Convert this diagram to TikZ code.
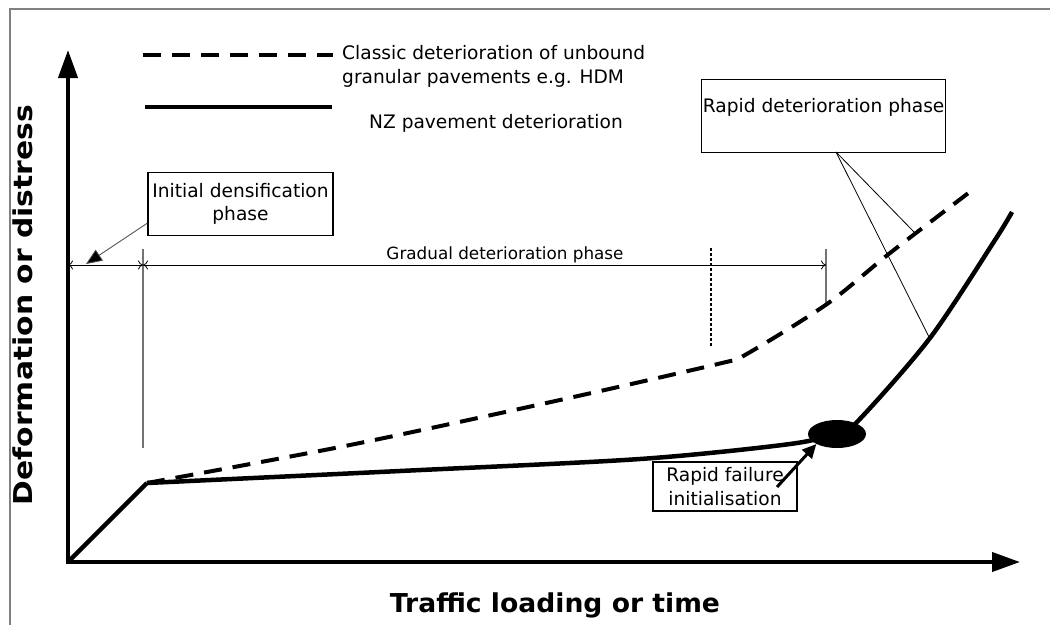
\documentclass[tikz,border=0pt]{standalone}
\usepackage{fontspec}
\usepackage{graphicx}
\setmainfont{DejaVu Sans}
\usetikzlibrary{arrows.meta,shapes.geometric}

\begin{document}
\begin{tikzpicture}[x=1pt,y=-1pt,
  frameline/.style={draw=black!50, line width=1.5pt},
  axis/.style={line width=4pt, -{Triangle[length=28pt,width=19pt]}},
  nzcurve/.style={line width=4.5pt, line join=round},
  hdmcurve/.style={line width=4pt, dash pattern=on 18pt off 11pt},
  txt/.style={font=\fontsize{18.6}{24}\selectfont, inner sep=0pt, align=left},
  labelbox/.style={draw, line width=1.3pt, font=\fontsize{18.6}{23.5}\selectfont, align=center, inner sep=0pt},
  dimline/.style={line width=0.8pt},
  leader/.style={line width=0.8pt},
  guide/.style={draw=black!55, line width=1.3pt},
  axislabel/.style={font=\fontsize{26}{30}\bfseries\selectfont, inner sep=0pt},
]
\useasboundingbox (0,0) rectangle (1050,625);

% frame (top and left edges)
\draw[frameline] (10,625) -- (10,9) -- (1050,9);

% axes
\coordinate (O) at (68,562);
\coordinate (ytop) at (68,50);
\coordinate (xend) at (1020,562);
\draw[axis] (68,564) -- (ytop);
\draw[axis] (66,562) -- (xend);

\node[axislabel, anchor=base] (xlabel) at (555,612)
  {\resizebox{330pt}{\height}{Traffic loading or time}};
\node[axislabel, rotate=90, anchor=base] (ylabel) at (32,305)
  {\resizebox{400pt}{\height}{Deformation or distress}};

% legend
\draw[hdmcurve] (143,55) -- (333,55);
\draw[line width=4.5pt] (145,107) -- (332,107);
\node[txt, anchor=north west] (hdmtext) at (342,45)
  {Classic deterioration of unbound\\granular pavements e.g. HDM};
\node[txt, anchor=west] (nztext) at (369,123) {NZ pavement deterioration};

% phase boundaries
\draw[guide] (143,249) -- (143,448);
\draw[guide] (826,249) -- (826,303);
\draw[line width=1.2pt, dash pattern=on 3pt off 2pt] (711,248) -- (711,347);

% dimension line for the phases
\coordinate (d0) at (68,265);
\coordinate (d1) at (143,265);
\coordinate (d2) at (826,265);
\draw[dimline, {To[length=5pt,width=9pt]}-{To[length=5pt,width=9pt]}] (d0) -- (d1);
\draw[dimline, {To[length=5pt,width=9pt]}-{To[length=5pt,width=9pt]}] (d1) -- (d2);
\node[txt, font=\fontsize{16.8}{20}\selectfont, anchor=base] (gradual) at (505,259) {Gradual deterioration phase};

% initial densification label
\node[labelbox, minimum width=185pt, minimum height=63pt] (densbox) at (240.5,204)
  {Initial densification\\phase};
\coordinate (denstip) at (86,264);
\draw[leader, draw=black!70, -{Triangle[length=16pt,width=13pt,fill=black]}]
  ([yshift=13pt]densbox.south west) -- (denstip);

% classic (HDM) deterioration curve
\draw[hdmcurve] plot[smooth, tension=0.5] coordinates
  {(147,483) (350,445) (560,400) (722,363) (745,355) (827,304) (890,253) (975,188)};

% NZ deterioration curve
\draw[nzcurve] (O) -- (147,483);
\draw[nzcurve] plot[smooth, tension=0.5] coordinates
  {(147,483) (400,471) (640,459) (790,444) (837,433) (857,422) (930,338) (995,240) (1012,212)};

% rapid failure initialisation point
\node[ellipse, fill, minimum width=58pt, minimum height=28pt, inner sep=0pt] (fail) at (837,434) {};
\node[labelbox, minimum width=144pt, minimum height=49pt] (failbox) at (725,486.5)
  {Rapid failure\\initialisation};
\coordinate (failstart) at (777,487);
\draw[line width=3pt, -{Triangle[length=14pt,width=13pt]}] (failstart) -- (fail.south west);

% rapid deterioration label
\node[labelbox, anchor=north west, minimum width=244pt, text height=33pt, text depth=40pt]
  (rapidbox) at (701,79) {Rapid deterioration phase};
\coordinate (rapidfoot) at (836,152);
\coordinate (ondash) at (915,233);
\coordinate (onsolid) at (930,339);
\draw[leader] (rapidfoot) -- (ondash);
\draw[leader] (rapidfoot) -- (onsolid);
\end{tikzpicture}
\end{document}
